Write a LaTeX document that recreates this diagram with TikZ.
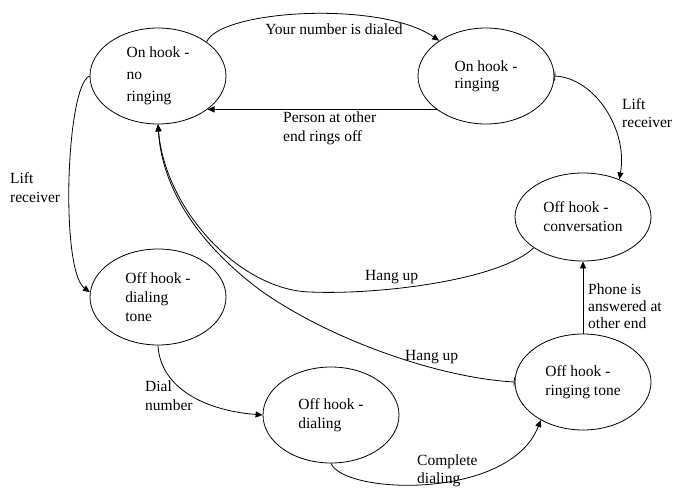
\documentclass[tikz,border=0pt]{standalone}
\usepackage{fontspec}
\setmainfont{Liberation Serif}
\usetikzlibrary{shapes.geometric,arrows.meta}
\begin{document}
\begin{tikzpicture}[x=1pt,y=-1pt,
  state/.style={draw,ellipse,line width=0.8pt,minimum width=136pt,minimum height=96pt,
    inner sep=0pt,align=left,font=\fontsize{15.5}{19}\selectfont},
  lbl/.style={inner sep=0pt,align=left,anchor=west,font=\fontsize{15.5}{19}\selectfont},
  link/.style={line width=0.8pt,-{Triangle[length=7pt,width=6pt]}},
  barlink/.style={line width=0.8pt,{Bar[width=9pt]}-{Triangle[length=7pt,width=6pt]}}]
\useasboundingbox[fill=white] (0,0) rectangle (677,488);

% states
\node[state,font=\fontsize{15.5}{22}\selectfont] (nor) at (158,76) {On hook -\\no\\ringing};
\node[state,font=\fontsize{15.5}{17}\selectfont] (ring) at (486,76) {On hook -\\ringing};
\node[state,minimum height=88pt] (conv) at (583,217) {Off hook -\\conversation};
\node[state] (dtone) at (158,297) {Off hook -\\dialing\\tone};
\node[state] (dial) at (331,415) {Off hook -\\dialing};
\node[state] (rtone) at (583,382) {Off hook -\\ringing tone};

% transitions
\draw[link] (nor.35) .. controls (220,10) and (380,0) .. (ring.143);
\draw[link] (ring.214) -- (nor.-34);
\draw[barlink] (ring.east) .. controls (595,78) and (628,130) .. (conv.46);
\draw[link] (nor.west) .. controls (66,85) and (60,270) .. (dtone.176);
\draw[link] (dtone.south) .. controls (160,385) and (200,410) .. (dial.west);
\draw[link] (dial.south) .. controls (345,495) and (510,500) .. (rtone.222);
\draw[link] (conv.212) .. controls (500,280) and (380,295) .. (310,292)
  .. controls (240,290) and (165,210) .. (nor.south);
\draw[barlink] (rtone.west) .. controls (440,378) and (330,340) .. (260,290)
  .. controls (200,245) and (162,190) .. (nor.south);
\draw[link] (rtone.north) -- (conv.south);

% transition labels
\node[lbl,anchor=center] (l1) at (334,29) {Your number is dialed};
\node[lbl] (l2) at (283,128) {Person at other\\end rings off};
\node[lbl,font=\fontsize{15.5}{18}\selectfont] (l3) at (622,113) {Lift\\receiver};
\node[lbl] (l4) at (10,188) {Lift\\receiver};
\node[lbl] (l5) at (365,277) {Hang up};
\node[lbl] (l6) at (405,357) {Hang up};
\node[lbl,font=\fontsize{15.5}{17}\selectfont] (l7) at (588,306) {Phone is\\answered at\\other end};
\node[lbl] (l8) at (145,396) {Dial\\number};
\node[lbl,font=\fontsize{15.5}{18}\selectfont] (l9) at (417,471) {Complete\\dialing};
\end{tikzpicture}
\end{document}
